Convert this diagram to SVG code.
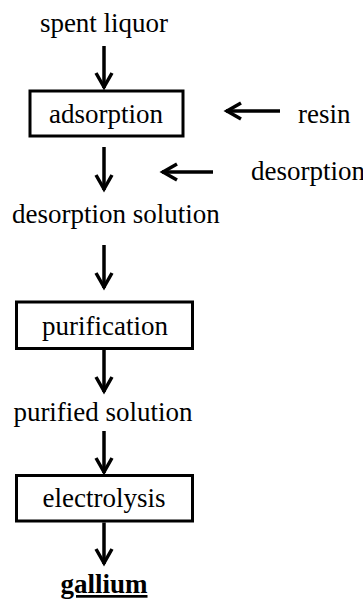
<svg xmlns="http://www.w3.org/2000/svg" width="363" height="601" viewBox="0 0 363 601">
<style>
text{font-family:"Liberation Serif","Times New Roman",serif;font-size:27px;fill:#000}
.box{fill:#fff;stroke:#000;stroke-width:3}
.c line{stroke:#000;stroke-width:3.5}
.m{text-anchor:middle}
</style>
<defs>
<marker id="ah" markerUnits="userSpaceOnUse" markerWidth="24" markerHeight="24" viewBox="-20 -12 24 24" refX="0" refY="0" orient="auto" overflow="visible">
<path d="M-15,-8 L-1,0 L-15,8" fill="none" stroke="#000" stroke-width="3.5"/>
</marker>
</defs>
<rect width="363" height="601" fill="#fff"/>
<g id="spent"><text class="m" x="104" y="32">spent liquor</text></g>
<g id="adsorption"><rect class="box" x="30" y="91" width="153" height="45"/><text class="m" x="106" y="123">adsorption</text></g>
<g id="resin"><text x="298" y="123">resin</text></g>
<g id="desorption"><text x="251" y="180">desorption</text></g>
<g id="desorption-solution"><text x="12" y="223">desorption solution</text></g>
<g id="purification"><rect class="box" x="16.5" y="302" width="176" height="46.5"/><text class="m" x="105" y="335">purification</text></g>
<g id="purified-solution"><text class="m" x="103" y="421">purified solution</text></g>
<g id="electrolysis"><rect class="box" x="16.5" y="475.5" width="176" height="45.5"/><text class="m" x="104" y="507">electrolysis</text></g>
<g id="gallium"><text class="m" x="104" y="593" font-weight="bold" text-decoration="underline">gallium</text></g>
<g class="c" id="connectors">
<line x1="104" y1="46" x2="104" y2="88" marker-end="url(#ah)"/>
<line x1="104" y1="147" x2="104" y2="190" marker-end="url(#ah)"/>
<line x1="280" y1="111" x2="226" y2="111" marker-end="url(#ah)"/>
<line x1="213" y1="172" x2="162" y2="172" marker-end="url(#ah)"/>
<line x1="104" y1="245" x2="104" y2="288" marker-end="url(#ah)"/>
<line x1="104" y1="350" x2="104" y2="392" marker-end="url(#ah)"/>
<line x1="104" y1="431" x2="104" y2="473" marker-end="url(#ah)"/>
<line x1="104" y1="522.5" x2="104" y2="564" marker-end="url(#ah)"/>
</g>
</svg>
